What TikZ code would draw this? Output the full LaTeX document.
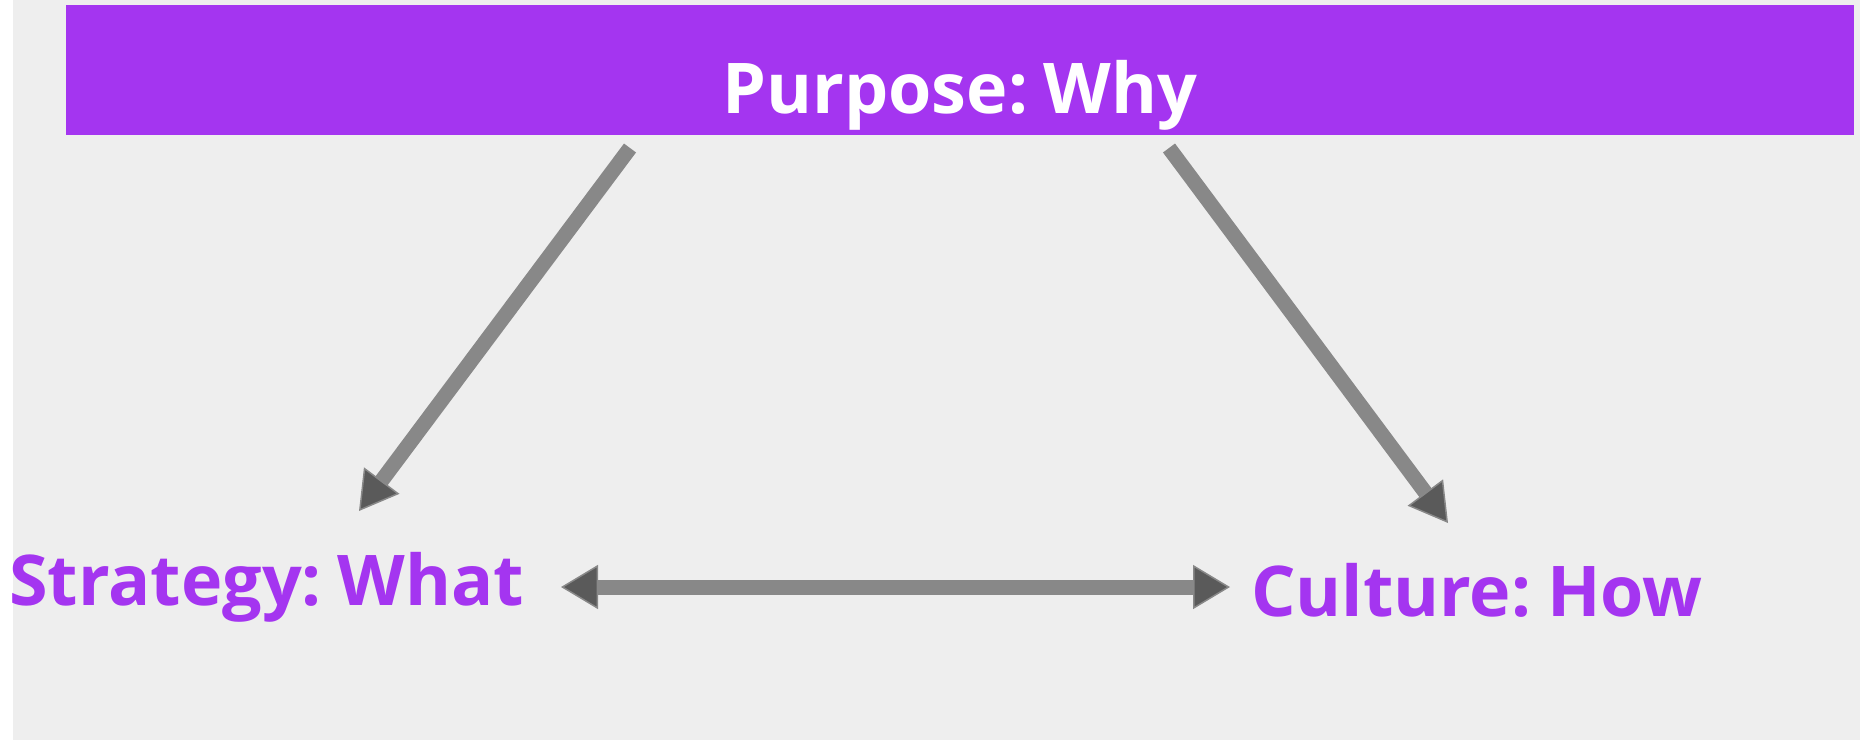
\documentclass[tikz,border=0pt]{standalone}
\usepackage{fontspec}
\setmainfont{Open Sans}[BoldFont={* Bold}]
\usetikzlibrary{arrows.meta}
\definecolor{bggray}{HTML}{EEEEEE}
\definecolor{brandpurple}{HTML}{A435F0}
\definecolor{arrowgray}{HTML}{888888}
\definecolor{headfill}{HTML}{5A5A5A}
\newcommand{\tightspacing}{\frenchspacing\spaceskip=16pt\relax}
\tikzset{
  bigtext/.style={font=\fontsize{70}{84}\selectfont\bfseries, inner sep=0pt,
    execute at begin node=\tightspacing},
  conn/.style={draw=arrowgray, line width=15pt,
    -{Triangle[length=38pt,width=44pt,fill=headfill,line width=1.5pt]}},
  dconn/.style={draw=arrowgray, line width=15pt,
    {Triangle[length=37pt,width=44pt,fill=headfill,line width=1.5pt]}-{Triangle[length=37pt,width=44pt,fill=headfill,line width=1.5pt]}},
}
\begin{document}
\begin{tikzpicture}[x=1pt,y=-1pt]
\useasboundingbox (0,0) rectangle (1860,740);
\fill[white] (0,0) rectangle (13,740);
\fill[bggray] (13,0) rectangle (1860,740);
\node[bigtext, fill=brandpurple, text=white, minimum width=1788pt, minimum height=130pt,
      text height=100pt, text depth=14pt] (purpose) at (960,70) {Purpose: Why};
\node[bigtext, text=brandpurple, anchor=base west] (strategy) at (9,605) {Strategy: What};
\node[bigtext, text=brandpurple, anchor=base west] (culture) at (1251,616) {Culture: How};
\coordinate (pl) at (630,148);
\coordinate (pr) at (1169,148);
\coordinate (sl) at (359,511);
\coordinate (cr) at (1448,523);
\coordinate (sh) at (561,587);
\coordinate (ch) at (1230,587);
\draw[conn] (pl) -- (sl);
\draw[conn] (pr) -- (cr);
\draw[dconn] (sh) -- (ch);
\end{tikzpicture}
\end{document}
